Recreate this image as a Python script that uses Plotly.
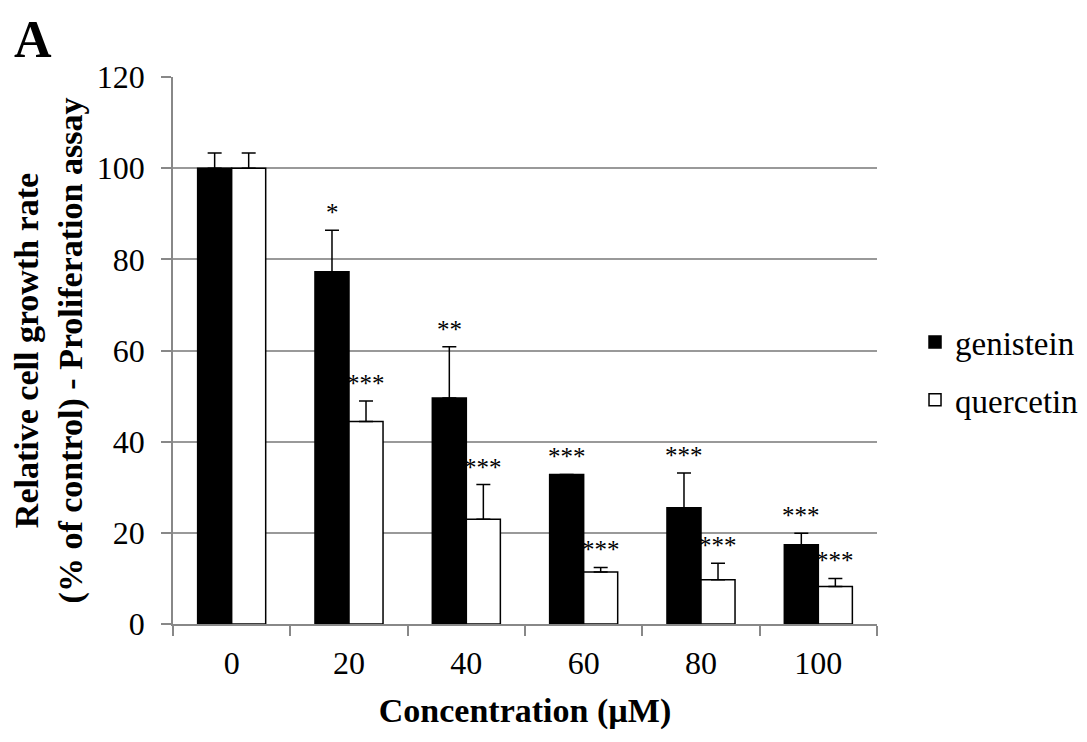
import plotly.graph_objects as go

categories = ["0", "20", "40", "60", "80", "100"]
genistein = [100, 77.3, 49.6, 32.8, 25.5, 17.4]
genistein_err = [3.3, 9.1, 11.2, 0.0, 7.6, 2.5]
quercetin = [100, 44.4, 23.0, 11.4, 9.7, 8.2]
quercetin_err = [3.3, 4.5, 7.6, 1.0, 3.6, 1.8]
genistein_sig = ["", "*", "**", "***", "***", "***"]
quercetin_sig = ["", "***", "***", "***", "***", "***"]
y_ticks = [0, 20, 40, 60, 80, 100, 120]

FONT = "Liberation Serif, Times New Roman, serif"

fig = go.Figure()
fig.add_trace(go.Bar(
    name="genistein", x=categories, y=genistein, legendgroup="g",
    marker=dict(color="black", line=dict(color="black", width=1.5)),
    error_y=dict(type="data", array=genistein_err, symmetric=False, arrayminus=[0]*6,
                 color="black", thickness=1.5, width=7),
))
fig.add_trace(go.Bar(
    name="quercetin", x=categories, y=quercetin, legendgroup="q",
    marker=dict(color="white", line=dict(color="black", width=1.5)),
    error_y=dict(type="data", array=quercetin_err, symmetric=False, arrayminus=[0]*6,
                 color="black", thickness=1.5, width=7),
))

annotations = []
for i, c in enumerate(categories):
    for vals, errs, sig, shift in ((genistein, genistein_err, genistein_sig, -17),
                                   (quercetin, quercetin_err, quercetin_sig, 17)):
        if sig[i]:
            annotations.append(dict(
                x=i, y=vals[i] + errs[i], xref="x", yref="y", text=sig[i],
                showarrow=False, xshift=shift, yanchor="bottom", yshift=2,
                font=dict(family=FONT, size=25, color="black"),
            ))
annotations.append(dict(
    x=-0.229, y=1.124, xref="paper", yref="paper", text="<b>A</b>", showarrow=False,
    xanchor="left", yanchor="top",
    font=dict(family=FONT, size=52, color="black"),
))

fig.update_layout(
    width=1087, height=742,
    margin=dict(l=165, r=218, t=69, b=126),
    paper_bgcolor="white", plot_bgcolor="white",
    barmode="group", bargap=0.42, bargroupgap=0,
    font=dict(family=FONT, size=32, color="black"),
    showlegend=True,
    legend=dict(x=1.054, y=0.4625, xanchor="left", yanchor="middle",
                font=dict(family=FONT, size=33, color="black"),
                traceorder="grouped", tracegroupgap=12, itemwidth=30),
    annotations=annotations,
)
fig.update_xaxes(
    type="category", range=[-0.5, 5.5], tickson="boundaries", ticks="outside", ticklen=10,
    tickcolor="#888888", tickwidth=1.5, automargin=False,
    showline=True, linecolor="#888888", linewidth=1.5,
    showgrid=False, ticklabelstandoff=10,
    tickfont=dict(family=FONT, size=32, color="black"),
    title=dict(text="<b>Concentration (µM)</b>", font=dict(family=FONT, size=34, color="black"), standoff=18),
)
fig.update_yaxes(
    range=[0, 120], tickvals=y_ticks, ticks="outside", ticklen=10,
    tickcolor="#888888", tickwidth=1.5, automargin=False,
    showline=True, linecolor="#888888", linewidth=1.5,
    showgrid=True, gridcolor="#999999", gridwidth=1.5,
    zeroline=False, ticklabelstandoff=10,
    tickfont=dict(family=FONT, size=32, color="black"),
    title=dict(text="<b>Relative cell growth rate<br>(% of control) - Proliferation assay</b>",
               font=dict(family=FONT, size=34, color="black"), standoff=22),
)
fig.write_html("out.html")
